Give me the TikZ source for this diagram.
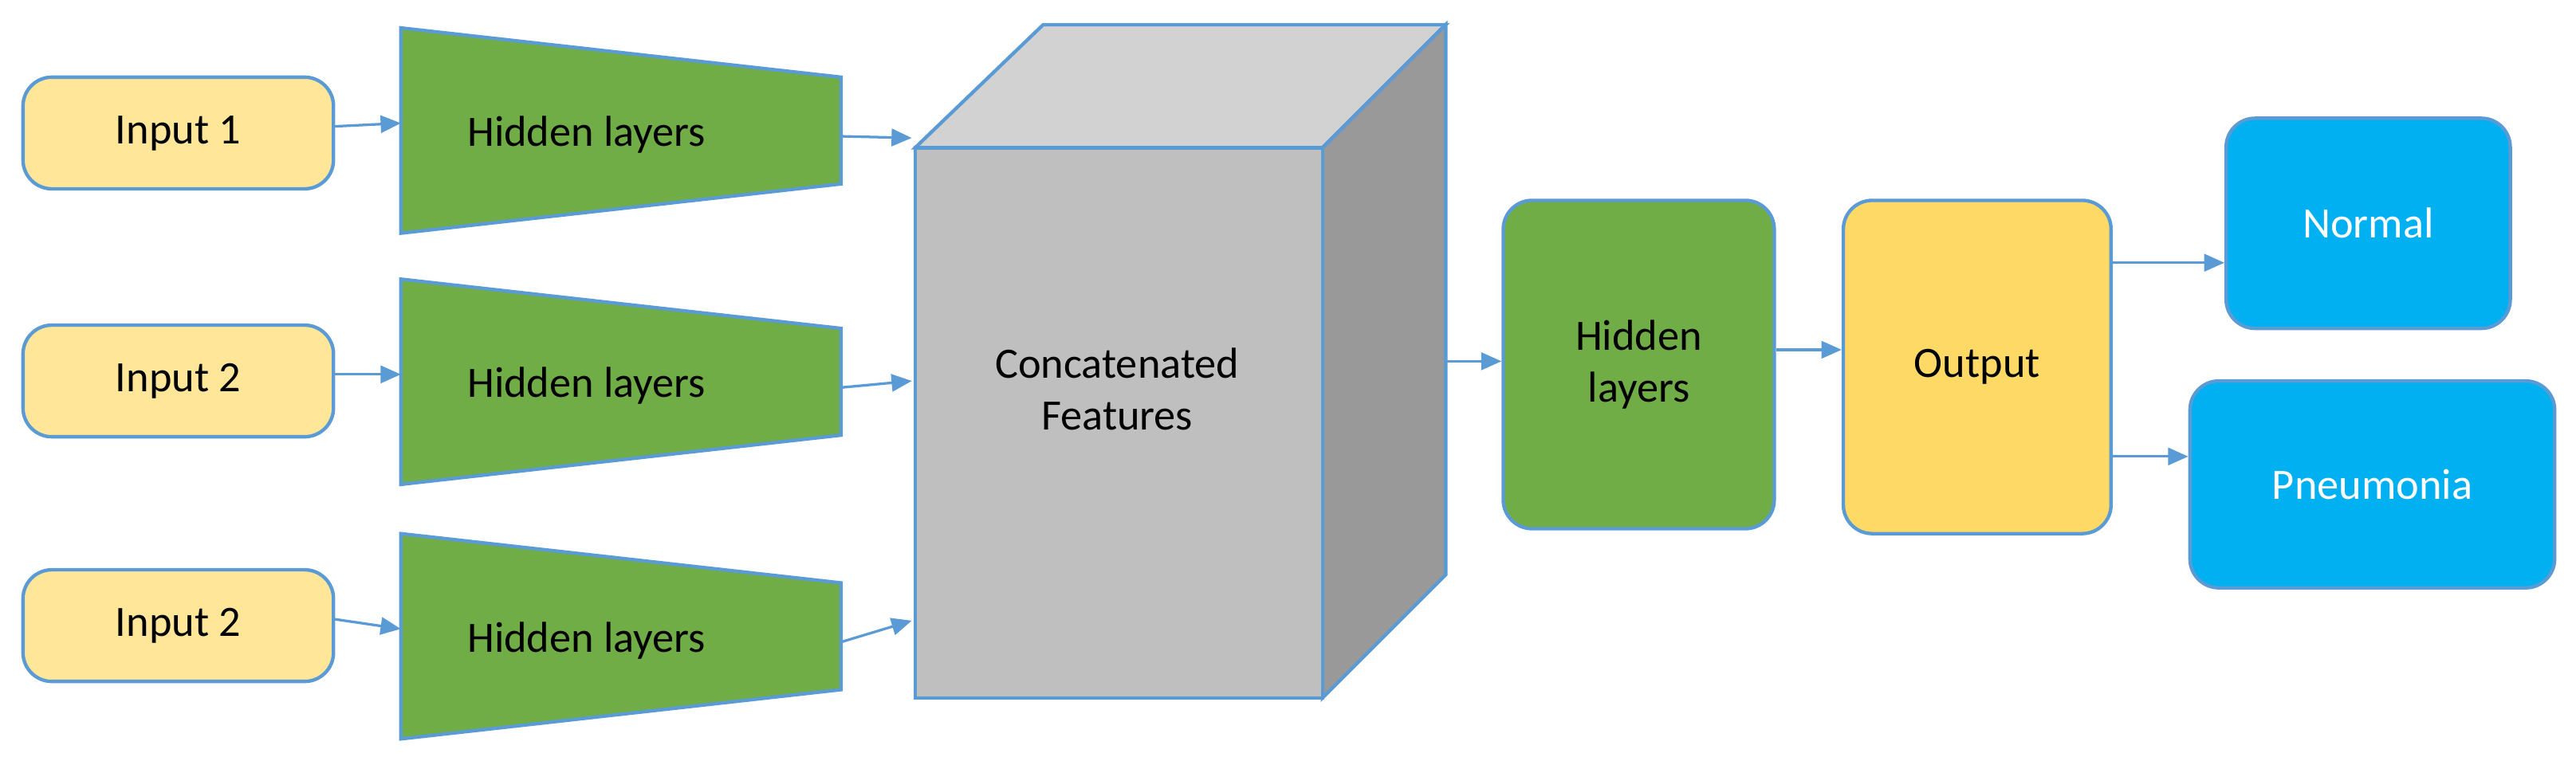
\documentclass[tikz,border=0pt]{standalone}
\usepackage{fontspec}
\setmainfont{Carlito}
\usetikzlibrary{arrows.meta}
\definecolor{bl}{HTML}{5B9BD5}
\definecolor{inp}{HTML}{FFE699}
\definecolor{gr}{HTML}{70AD47}
\definecolor{outc}{HTML}{FFD966}
\definecolor{cy}{HTML}{00B0F0}
\begin{document}
\begin{tikzpicture}[x=0.02cm,y=-0.02cm,
  box/.style={draw=bl,line width=1.2pt,rounded corners=10pt,font=\fontsize{15}{18}\selectfont,align=center},
  arr/.style={draw=bl,line width=0.9pt,-{Triangle[length=7pt,width=6pt]}},
  edge/.style={draw=bl,line width=1.2pt}]
\useasboundingbox (0,0) rectangle (1568,461);
\tikzset{fnt/.style={font=\fontsize{15}{18}\selectfont}}
% inputs
\foreach \n/\t/\y in {i1/Input 1/47, i2/Input 2/198, i3/Input 2/347}{
  \draw[box,fill=inp] (14,\y) rectangle ++(189,68);
  \node[fnt] (\n) at (108.5,\y+34) {\t};
  \coordinate (\n r) at (203,\y+30);
}
% trapezoids
\foreach \n/\y in {t1/17, t2/170, t3/325}{
  \draw[edge,fill=gr] (244,\y) -- (512,\y+30) -- (512,\y+95) -- (244,\y+125) -- cycle;
  \node[fnt] (\n) at (357,\y+65) {Hidden layers};
  \coordinate (\n l) at (244,\y+58);
  \coordinate (\n r) at (512,\y+66);
}
\draw[arr] (i1r) -- (t1l);
\draw[arr] (i2r) -- (t2l);
\draw[arr] (i3r) -- (t3l);
% cube
\draw[edge,fill=gray!35] (557,90) -- (635,15) -- (880,15) -- (805,90) -- cycle;
\draw[edge,fill=gray!80] (805,90) -- (880,15) -- (880,350) -- (805,425) -- cycle;
\draw[edge,fill=gray!50] (557,90) rectangle (805,425);
\node[fnt,align=center] (cf) at (680,237) {Concatenated\\Features};
\coordinate (c1) at (555,84);
\coordinate (c2) at (555,232);
\coordinate (c3) at (555,378);
\coordinate (cr) at (880,220);
\draw[arr] (t1r) -- (c1);
\draw[arr] (t2r) -- (c2);
\draw[arr] (t3r) -- (c3);
% hidden, output
\node[box,fill=gr,minimum width=3.3cm,minimum height=4cm] (h) at (997.5,222) {Hidden\\layers};
\node[box,fill=outc,minimum width=3.26cm,minimum height=4.06cm] (o) at (1203.5,223.5) {Output};
\node[box,fill=cy,text=white,minimum width=3.46cm,minimum height=2.56cm] (nm) at (1441.5,136) {Normal};
\node[box,fill=cy,text=white,minimum width=4.44cm,minimum height=2.52cm] (pn) at (1444,295) {Pneumonia};
\draw[arr] (cr) -- (h.west |- cr);
\draw[arr] (h.east |- 0,213) -- (o.west |- 0,213);
\draw[arr] (o.east |- 0,160) -- (nm.west |- 0,160);
\draw[arr] (o.east |- 0,278) -- (pn.west |- 0,278);
\end{tikzpicture}
\end{document}
